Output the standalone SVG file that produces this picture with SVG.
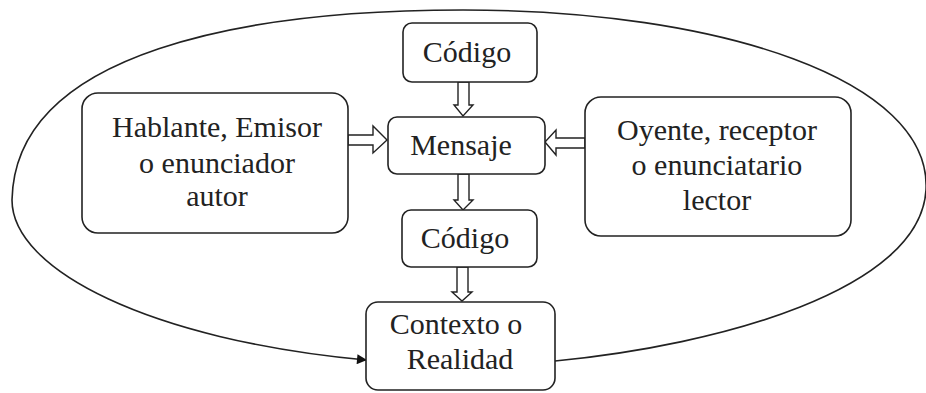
<svg xmlns="http://www.w3.org/2000/svg" width="926" height="393" viewBox="0 0 926 393">
<defs>
<style>
.box{fill:#fff;stroke:#222;stroke-width:1.6}
.t{font-family:"Liberation Serif","Times New Roman",serif;font-size:30px;fill:#222;text-anchor:middle}
.ha{fill:#fff;stroke:#222;stroke-width:1.4;stroke-linejoin:miter}
.curve{fill:none;stroke:#222;stroke-width:1.6}
</style>
<marker id="ah" viewBox="0 0 10 10" refX="9" refY="5" markerWidth="12" markerHeight="10" markerUnits="userSpaceOnUse" orient="auto">
<path d="M0,0 L10,5 L0,10 z" fill="#111"/>
</marker>
</defs>
<rect width="926" height="393" fill="#fff"/>
<g id="connectors">
<path class="curve" d="M555,361 C720,345 920,290 926,190 C932,80 720,10 463,10 C250,10 15,50 12,200 C12,270 150,340 366,360" marker-end="url(#ah)"/>
<polygon class="ha" points="458,82 469,82 469,105 473,105 463,116 454,105 458,105"/>
<polygon class="ha" points="458,174 469,174 469,200 473,200 463,210 454,200 458,200"/>
<polygon class="ha" points="457,267 468,267 468,292 472,292 462,301 452,292 457,292"/>
<polygon class="ha" points="348,135 373,135 373,126 387,140 373,153 373,145 348,145"/>
<polygon class="ha" points="585,138 556,138 556,130 545,142 556,155 556,148 585,148"/>
</g>
<g id="codigo-top">
<rect class="box" x="403" y="23" width="134" height="59" rx="9"/>
<text class="t" x="467" y="62">Código</text>
</g>
<g id="mensaje">
<rect class="box" x="388" y="117" width="157" height="57" rx="9"/>
<text class="t" x="461" y="155">Mensaje</text>
</g>
<g id="hablante">
<rect class="box" x="82" y="93" width="266" height="140" rx="16"/>
<text class="t" x="217" y="137">Hablante, Emisor</text>
<text class="t" x="217" y="173">o enunciador</text>
<text class="t" x="217" y="206">autor</text>
</g>
<g id="oyente">
<rect class="box" x="585" y="97" width="266" height="139" rx="16"/>
<text class="t" x="717" y="140">Oyente, receptor</text>
<text class="t" x="717" y="175">o enunciatario</text>
<text class="t" x="717" y="210">lector</text>
</g>
<g id="codigo-bottom">
<rect class="box" x="402" y="210" width="135" height="57" rx="9"/>
<text class="t" x="465" y="248">Código</text>
</g>
<g id="contexto">
<rect class="box" x="366" y="302" width="189" height="88" rx="12"/>
<text class="t" x="456" y="334">Contexto o</text>
<text class="t" x="460" y="369">Realidad</text>
</g>
</svg>
